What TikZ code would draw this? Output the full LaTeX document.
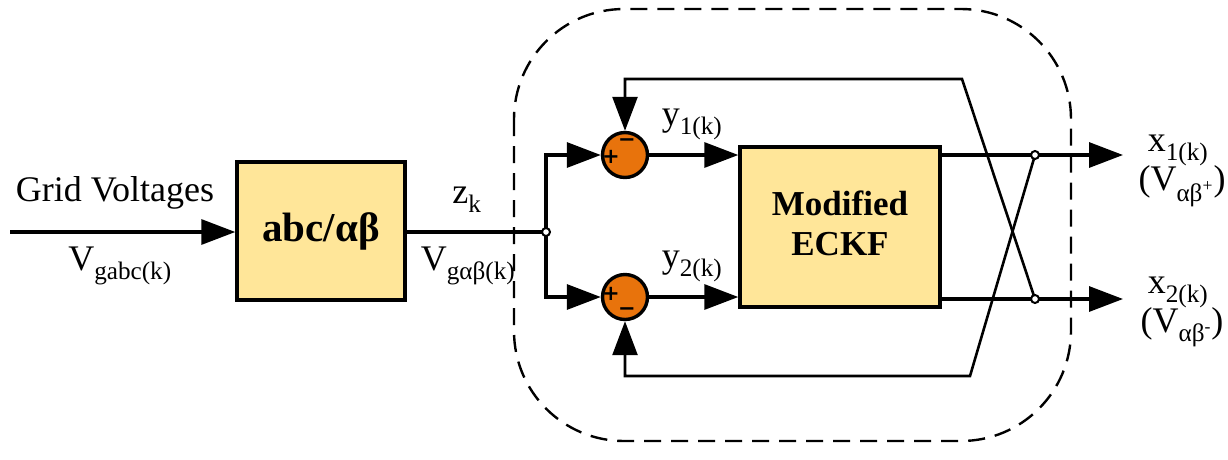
\documentclass[tikz,border=0pt]{standalone}
\usepackage{fontspec}
\setmainfont{Liberation Serif}
\newfontfamily\signfont{DejaVu Sans}
\usetikzlibrary{arrows.meta}
\definecolor{boxfill}{HTML}{FFE699}
\definecolor{sumfill}{HTML}{E8730C}
\begin{document}
\begin{tikzpicture}[x=1pt,y=-1pt,
  line width=3.2pt,
  blk/.style={draw=black,fill=boxfill,line width=3.4pt,inner sep=0pt},
  sumnode/.style={circle,draw=black,fill=sumfill,line width=3.4pt,minimum size=45pt,inner sep=0pt},
  jdot/.style={circle,draw=black,fill=white,line width=2pt,minimum size=8pt,inner sep=0pt},
  arr/.style={-{Triangle[length=34pt,width=25pt]}},
  lbl/.style={font=\fontsize{36}{40}\selectfont,inner sep=0pt},
  sgn/.style={font=\signfont\bfseries\fontsize{21}{21}\selectfont,inner sep=0pt},
  fb/.style={line width=2.6pt}]
\useasboundingbox (0,0) rectangle (1228,459);
% dashed boundary
\draw[line width=2.4pt,dash pattern=on 17pt off 10pt,rounded corners=110pt] (514,9) rectangle (1071,441);
% blocks
\node[blk,minimum width=168pt,minimum height=138pt] (abc) at (321,231) {\fontsize{41}{44}\selectfont\bfseries abc/αβ};
\node[blk,minimum width=200pt,minimum height=160pt] (eckf) at (840,227) {\fontsize{35}{42}\selectfont\bfseries\begin{tabular}{c}Modified\\[-2pt]ECKF\end{tabular}};
\node[sumnode] (s1) at (625,155) {};
\node[sumnode] (s2) at (625,297) {};
\coordinate (in) at (10,232);
\coordinate (o1) at (1123,155);
\coordinate (o2) at (1123,299);
\coordinate (ft) at (962,79);
\coordinate (fb) at (970,376);
% signs
\node[sgn] (s1p) at (611,157) {+};
\node[sgn] (s1m) at (627,143) {−};
\node[sgn] (s2p) at (611,294) {+};
\node[sgn] (s2m) at (627,312) {−};
% main path
\draw[arr] (in) -- (abc.west |- in);
\draw (abc.east |- in) -- (546,232) coordinate (jc);
\draw[arr] (jc) |- (s1);
\draw[arr] (jc) |- (s2);
\draw[arr] (s1) -- (eckf.west |- s1);
\draw[arr] (s2) -- (eckf.west |- s2);
\draw[arr] (eckf.east |- o1) -- (o1);
\draw[arr] (eckf.east |- o2) -- (o2);
\coordinate (n1) at (1035,155);
\coordinate (n2) at (1035,299);
% feedback
\draw[fb,arr] (n2) -- (ft) -| (s1);
\draw[fb,arr] (n1) -- (fb) -| (s2);
% junction dots
\node[jdot] (j) at (jc) {};
\node[jdot] (j1) at (n1) {};
\node[jdot] (j2) at (n2) {};
% labels
\node[lbl] (gv) at (115,193) {Grid Voltages};
\node[lbl] (vg) at (120,266) {V\textsubscript{gabc(k)}};
\node[lbl] (zk) at (467,200) {z\textsubscript{k}};
\node[lbl] (vab) at (468,266) {V\textsubscript{gαβ(k)}};
\node[lbl] (y1) at (692,124) {y\textsubscript{1(k)}};
\node[lbl] (y2) at (692,266) {y\textsubscript{2(k)}};
\node[lbl] (x1) at (1178,150) {x\textsubscript{1(k)}};
\node[lbl] (v1) at (1182,186) {(V\textsubscript{αβ\textsuperscript{+}})};
\node[lbl] (x2) at (1178,292) {x\textsubscript{2(k)}};
\node[lbl] (v2) at (1182,327) {(V\textsubscript{αβ\textsuperscript{-}})};
\end{tikzpicture}
\end{document}
